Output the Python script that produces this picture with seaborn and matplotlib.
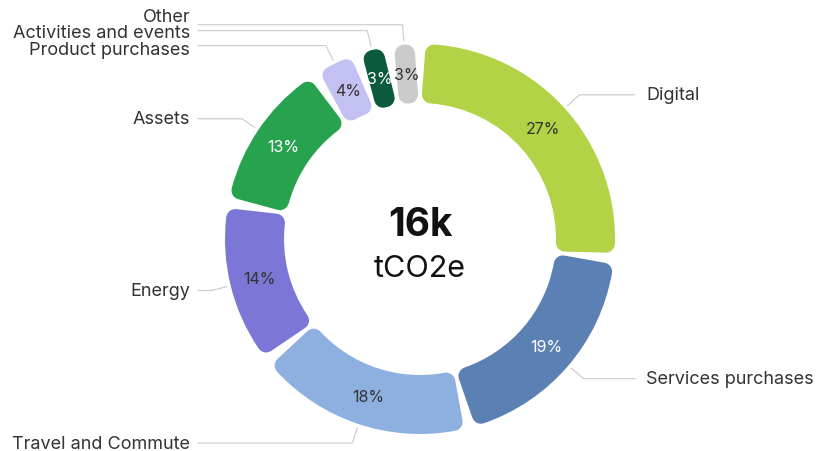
import matplotlib
matplotlib.use("Agg")
import matplotlib.pyplot as plt
import seaborn as sns
import numpy as np

sns.set_theme(style="white")
plt.rcParams['font.family'] = ['Inter', 'DejaVu Sans']

# 데이터 (그림의 각도와 표시된 퍼센트에서 추정)
categories = ['Digital', 'Services purchases', 'Travel and Commute', 'Energy',
              'Assets', 'Product purchases', 'Activities and events', 'Other']
shares = [26.6, 19.3, 18.4, 13.7, 12.9, 3.8, 2.7, 2.6]
colors = ['#b1d345', '#5a80b4', '#8db0e0', '#7c76d6',
          '#27a350', '#c3c0f2', '#0b5a3c', '#cbcbcb']
pct_colors = ['#333333', 'white', '#333333', '#333333',
              'white', '#333333', 'white', '#333333']
total_text = '16k'
unit_text = 'tCO2e'

# 레이아웃 (픽셀 단위)
W, H = 819, 452
CX, CY = 420, H - 240
R_OUT, R_IN = 195, 136
CORNER = 9
GAP = 7
label_nudge = {'Other': 8, 'Activities and events': -2, 'Product purchases': -4}

fig = plt.figure(figsize=(W / 100, H / 100), dpi=100)
ax = fig.add_axes([0, 0, 1, 1])

r_mid = (R_OUT + R_IN) / 2
wedges, texts, autotexts = ax.pie(
    shares, colors=colors, startangle=90, counterclock=False,
    center=(CX, CY), radius=R_OUT,
    autopct='%.0f%%', pctdistance=r_mid / R_OUT,
    wedgeprops=dict(width=R_OUT - R_IN),
    textprops=dict(fontsize=11.5, color='#333333'))

# 둥근 모서리: 조각을 줄이고 같은 색으로 두꺼운 테두리
shrink = np.degrees(np.arcsin((GAP / 2 + CORNER) / r_mid))
lw = 2 * CORNER * 72 / 100
for w, c in zip(wedges, colors):
    w.set_theta1(w.theta1 + shrink)
    w.set_theta2(w.theta2 - shrink)
    w.set_radius(R_OUT - CORNER)
    w.set_width(R_OUT - R_IN - 2 * CORNER)
    w.set_edgecolor(c)
    w.set_linewidth(lw)
    w.set_joinstyle('round')

for t, c in zip(autotexts, pct_colors):
    t.set_color(c)

# 리더 라인 + 라벨
line_c = '#cfcfcf'
for w, name in zip(wedges, categories):
    mid = np.radians((w.theta1 + w.theta2) / 2)
    x0, y0 = CX + (R_OUT + 4) * np.cos(mid), CY + (R_OUT + 4) * np.sin(mid)
    x1, y1 = CX + 215 * np.cos(mid), CY + 215 * np.sin(mid)
    if np.cos(mid) >= 0:
        x2, tx, ha = 635, 646, 'left'
    else:
        x2, tx, ha = 198, 190, 'right'
    ax.plot([x0, x1, x2], [y0, y1, y1], color=line_c, lw=0.9, zorder=1)
    ax.text(tx, y1 + label_nudge.get(name, 0), name, ha=ha, va='center',
            fontsize=13, color='#333333')

ax.text(CX, CY + 14, total_text, ha='center', va='center',
        fontsize=28, fontweight='bold', color='#111111')
ax.text(CX, CY - 29, unit_text, ha='center', va='center',
        fontsize=22, color='#111111')

ax.set_xlim(0, W)
ax.set_ylim(0, H)
ax.set_aspect('equal')
ax.axis('off')

fig.savefig('out.png', dpi=100, facecolor='white')
